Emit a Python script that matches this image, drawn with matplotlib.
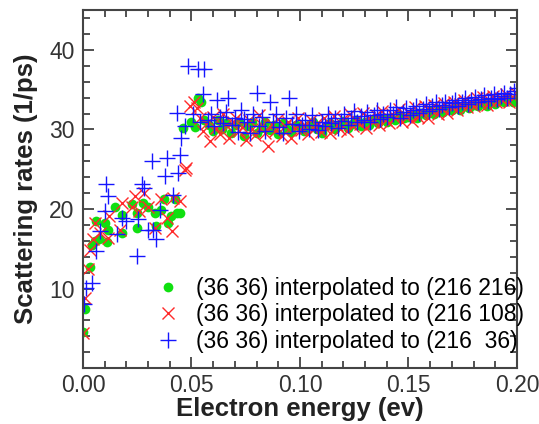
import matplotlib
matplotlib.use('Agg')
import matplotlib.pyplot as plt
from matplotlib.ticker import MultipleLocator

plt.rcParams['font.family'] = ['Liberation Sans', 'DejaVu Sans']

# (36 36) -> (216 216), green circles
x_green = [0.0002, 0.001, 0.003, 0.004, 0.0055, 0.006, 0.0075, 0.010, 0.011, 0.0115,
           0.0147, 0.0178, 0.0180, 0.0224, 0.0247, 0.0250, 0.0278, 0.0300, 0.0330, 0.0335,
           0.0360, 0.0375, 0.0390, 0.0405, 0.0425, 0.0432, 0.0447, 0.0462, 0.0500, 0.0515,
           0.0530, 0.0545, 0.0560, 0.0580, 0.0600, 0.0620, 0.0640, 0.0660, 0.0680, 0.0700,
           0.0720, 0.0740, 0.0760, 0.0780, 0.0800, 0.0820, 0.0840, 0.0860, 0.0880, 0.0900,
           0.0920, 0.0940, 0.0960, 0.0980, 0.1000, 0.1020, 0.1040, 0.1060, 0.1080, 0.1100,
           0.1120, 0.1140, 0.1160, 0.1180, 0.1200, 0.1220, 0.1240, 0.1260, 0.1280, 0.1300,
           0.1320, 0.1340, 0.1360, 0.1380, 0.1400, 0.1420, 0.1440, 0.1460, 0.1480, 0.1500,
           0.1520, 0.1540, 0.1560, 0.1580, 0.1600, 0.1620, 0.1640, 0.1660, 0.1680, 0.1700,
           0.1720, 0.1740, 0.1760, 0.1780, 0.1800, 0.1820, 0.1840, 0.1860, 0.1880, 0.1900,
           0.1920, 0.1940, 0.1960, 0.1980, 0.2000]
y_green = [4.5, 7.4, 12.7, 15.5, 16.0, 18.5, 16.2, 18.3, 15.9, 17.3,
           20.3, 19.3, 17.0, 20.6, 17.6, 19.5, 20.8, 20.3, 19.5, 17.8,
           19.9, 21.2, 18.3, 19.1, 21.2, 19.5, 19.5, 30.2, 31.0, 30.3,
           34.0, 33.5, 31.2, 30.5, 29.8, 31.2, 30.0, 30.8, 29.5, 30.6,
           31.0, 29.2, 30.4, 30.9, 29.6, 30.2, 31.0, 29.9, 30.5, 29.4,
           30.8, 30.1, 29.7, 30.6, 30.3, 29.8, 30.5, 30.9, 30.0, 29.6,
           30.4, 30.8, 30.1, 30.6, 31.1, 30.2, 30.7, 31.2, 30.4, 31.0,
           30.6, 31.3, 30.8, 31.4, 31.0, 31.5, 31.2, 31.8, 31.4, 31.6,
           31.9, 31.5, 32.1, 31.8, 32.3, 32.0, 32.5, 32.2, 32.6, 32.4,
           32.8, 32.5, 33.0, 32.7, 33.1, 32.9, 33.3, 33.0, 33.5, 33.2,
           33.6, 33.4, 33.8, 33.5, 34.0]

# (36 36) -> (216 108), red crosses
x_red = [0.0002, 0.001, 0.0025, 0.003, 0.0045, 0.0055, 0.008, 0.0115, 0.012, 0.0170,
         0.0178, 0.0225, 0.0240, 0.0260, 0.0280, 0.0300, 0.0330, 0.0360, 0.0385, 0.0409,
         0.0415, 0.0447, 0.0470, 0.0475, 0.0493, 0.0510, 0.0525, 0.0540, 0.0554, 0.0570,
         0.0585, 0.0600, 0.0615, 0.0630, 0.0645, 0.0660, 0.0675, 0.0690, 0.0705, 0.0720,
         0.0735, 0.0750, 0.0765, 0.0780, 0.0795, 0.0810, 0.0825, 0.0840, 0.0854, 0.0870,
         0.0885, 0.0900, 0.0915, 0.0930, 0.0945, 0.0960, 0.0975, 0.0990, 0.1005, 0.1020,
         0.1035, 0.1050, 0.1065, 0.1080, 0.1095, 0.1110, 0.1125, 0.1140, 0.1155, 0.1170,
         0.1185, 0.1200, 0.1215, 0.1230, 0.1245, 0.1260, 0.1275, 0.1290, 0.1305, 0.1320,
         0.1335, 0.1350, 0.1365, 0.1380, 0.1395, 0.1410, 0.1425, 0.1440, 0.1455, 0.1470,
         0.1485, 0.1500, 0.1515, 0.1530, 0.1545, 0.1560, 0.1575, 0.1590, 0.1605, 0.1620,
         0.1635, 0.1650, 0.1665, 0.1680, 0.1695, 0.1710, 0.1725, 0.1740, 0.1755, 0.1770,
         0.1785, 0.1800, 0.1815, 0.1830, 0.1845, 0.1860, 0.1875, 0.1890, 0.1905, 0.1920,
         0.1935, 0.1950, 0.1965, 0.1980, 0.1995]
y_red = [4.4, 8.8, 12.4, 14.9, 16.2, 18.3, 17.0, 16.4, 19.1, 17.4,
         20.8, 20.3, 21.6, 19.7, 22.0, 20.3, 17.6, 21.2, 18.9, 17.2,
         21.4, 21.0, 24.9, 25.2, 32.9, 33.4, 32.7, 31.5, 29.8, 30.8,
         28.6, 31.6, 30.2, 29.4, 31.9, 30.6, 28.9, 30.9, 31.5, 29.8,
         30.3, 28.7, 31.2, 30.0, 29.3, 31.8, 30.5, 29.6, 27.9, 30.7,
         29.8, 31.3, 29.2, 30.4, 31.0, 28.9, 30.2, 31.5, 29.9, 30.6,
         29.4, 31.2, 30.1, 30.8, 29.7, 31.4, 30.3, 29.5, 31.7, 30.6,
         30.0, 31.3, 29.8, 31.9, 30.4, 31.1, 30.7, 32.1, 30.2, 31.5,
         30.9, 31.8, 30.5, 32.3, 31.2, 30.8, 32.0, 31.4, 32.6, 30.9,
         31.7, 32.2, 31.1, 32.8, 31.6, 32.0, 32.9, 31.5, 32.4, 33.1,
         31.9, 32.7, 33.3, 32.1, 32.9, 33.4, 32.5, 33.2, 33.7, 32.8,
         33.5, 33.0, 33.9, 33.3, 34.1, 33.1, 33.6, 34.2, 33.4, 34.0,
         33.7, 34.4, 33.5, 34.1, 34.6]

# (36 36) -> (216 36), blue plus signs
x_blue = [0.0005, 0.0014, 0.0040, 0.0060, 0.0078, 0.0106, 0.0113, 0.0100, 0.0155, 0.0178,
          0.0200, 0.0247, 0.0255, 0.0270, 0.0280, 0.0300, 0.0316, 0.0324, 0.0335, 0.0355,
          0.0378, 0.0386, 0.0416, 0.0431, 0.0440, 0.0447, 0.0450, 0.0470, 0.0485, 0.0508,
          0.0530, 0.0540, 0.0554, 0.0560, 0.0575, 0.0590, 0.0605, 0.0616, 0.0630, 0.0645,
          0.0660, 0.0670, 0.0685, 0.0700, 0.0715, 0.0730, 0.0740, 0.0755, 0.0770, 0.0785,
          0.0800, 0.0810, 0.0825, 0.0840, 0.0860, 0.0875, 0.0890, 0.0905, 0.0920, 0.0935,
          0.0950, 0.0965, 0.0980, 0.0995, 0.1010, 0.1025, 0.1040, 0.1055, 0.1070, 0.1085,
          0.1100, 0.1115, 0.1130, 0.1145, 0.1160, 0.1175, 0.1190, 0.1205, 0.1220, 0.1235,
          0.1250, 0.1265, 0.1280, 0.1295, 0.1310, 0.1325, 0.1340, 0.1355, 0.1370, 0.1385,
          0.1400, 0.1415, 0.1430, 0.1445, 0.1460, 0.1475, 0.1490, 0.1505, 0.1520, 0.1535,
          0.1550, 0.1565, 0.1580, 0.1595, 0.1610, 0.1625, 0.1640, 0.1655, 0.1670, 0.1685,
          0.1700, 0.1715, 0.1730, 0.1745, 0.1760, 0.1775, 0.1790, 0.1805, 0.1820, 0.1835,
          0.1850, 0.1865, 0.1880, 0.1895, 0.1910, 0.1925, 0.1940, 0.1955, 0.1970, 0.1985,
          0.2000]
y_blue = [8.0, 10.1, 10.7, 14.7, 17.2, 23.1, 21.6, 19.7, 16.8, 18.9,
          18.5, 14.1, 18.7, 23.1, 22.6, 17.4, 26.0, 17.4, 16.2, 19.9,
          24.1, 26.4, 21.8, 32.1, 24.5, 26.8, 28.9, 30.4, 38.0, 31.9,
          37.6, 31.0, 34.4, 37.6, 31.2, 32.0, 30.4, 33.7, 31.6, 30.8,
          32.2, 34.0, 30.6, 31.5, 29.7, 32.5, 31.3, 30.9, 29.6, 32.0,
          34.6, 30.4, 31.6, 29.8, 33.5, 30.9, 32.0, 30.3, 29.5, 31.4,
          34.0, 30.7, 31.9, 29.8, 30.5, 31.2, 30.1, 31.8, 30.6, 29.9,
          31.0, 30.4, 32.0, 30.8, 31.5, 30.2, 31.1, 31.9, 30.6, 31.4,
          32.3, 30.9, 31.7, 31.2, 32.2, 31.0, 31.8, 32.5, 31.3, 32.0,
          31.6, 32.4, 31.9, 32.8, 31.5, 32.2, 32.7, 31.8, 32.5, 33.0,
          32.1, 32.6, 33.2, 32.3, 32.9, 33.4, 32.6, 33.1, 33.5, 32.8,
          33.3, 33.7, 33.0, 33.5, 33.9, 33.2, 33.7, 34.1, 33.4, 33.8,
          34.3, 33.6, 34.0, 34.5, 33.8, 34.2, 34.6, 34.0, 34.4, 34.8,
          35.2]

labels = ['(36 36) interpolated to (216 216)',
          '(36 36) interpolated to (216 108)',
          '(36 36) interpolated to (216  36)']

fig = plt.figure(figsize=(5.39, 4.24), dpi=100)
ax = fig.add_axes([0.154, 0.132, 0.805, 0.844])

ax.plot(x_green, y_green, linestyle='none', marker='o', markersize=7,
        color='#10e010', markeredgewidth=0, label=labels[0])
ax.plot(x_red, y_red, linestyle='none', marker='x', markersize=9,
        color='#ff2a2a', markeredgewidth=1.0, label=labels[1])
ax.plot(x_blue, y_blue, linestyle='none', marker='+', markersize=11,
        color='#1515ff', markeredgewidth=1.0, label=labels[2])

ax.set_xlim(0, 0.20)
ax.set_ylim(0, 45)
ax.xaxis.set_major_locator(MultipleLocator(0.05))
ax.xaxis.set_minor_locator(MultipleLocator(0.01))
ax.yaxis.set_major_locator(MultipleLocator(10))
ax.yaxis.set_minor_locator(MultipleLocator(2))
ax.set_xticks([0, 0.05, 0.10, 0.15, 0.20])
ax.set_xticklabels(['0.00', '0.05', '0.10', '0.15', '0.20'])
ax.set_yticks([10, 20, 30, 40])

ax.tick_params(which='both', direction='in', top=True, right=True,
               labelsize=16.5, colors='#333333', width=1.2)
ax.tick_params(which='major', length=8)
ax.tick_params(axis='x', which='major', pad=4)
ax.tick_params(axis='y', which='major', pad=6)
ax.tick_params(which='minor', length=5)
for s in ax.spines.values():
    s.set_linewidth(1.5)
    s.set_color('#444444')

ax.set_xlabel('Electron energy (ev)', fontsize=18.5, fontweight='bold',
              color='#222222', labelpad=0)
ax.set_ylabel('Scattering rates (1/ps)', fontsize=18.5, fontweight='bold',
              color='#222222', labelpad=8)

ax.legend(loc='lower left', bbox_to_anchor=(0.17, 0.043), frameon=False,
          fontsize=16.5, handlelength=1.0, handletextpad=0.7,
          labelspacing=0.15, borderpad=0, borderaxespad=0)

fig.savefig('out.png', dpi=100)
